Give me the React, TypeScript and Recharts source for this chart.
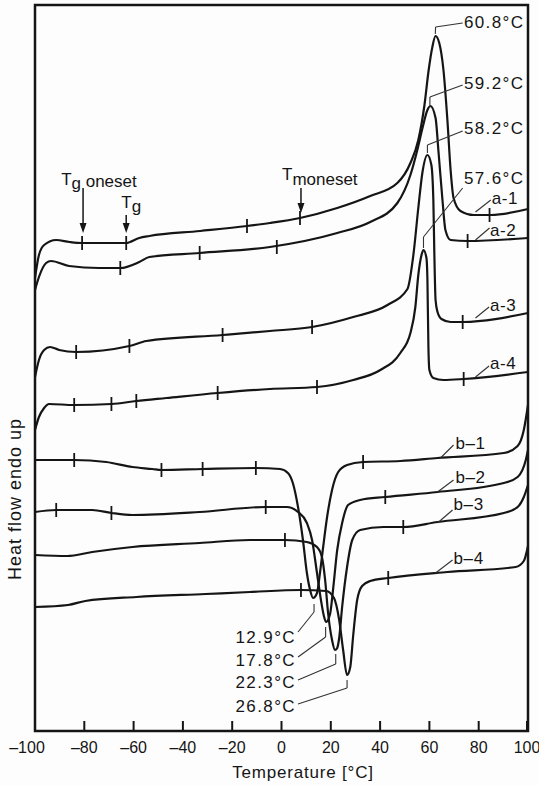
import React from "react";
import {
  ComposedChart,
  Line,
  Scatter,
  XAxis,
  YAxis,
  ReferenceArea,
  ReferenceLine,
  ReferenceDot,
} from "recharts";

type Pt = [number, number];

// temperature [°C], heat flow (arbitrary units, endo up)
const curveA1: Pt[] = [
  [-100, 453], [-98.4, 476], [-96.3, 486], [-91.4, 491], [-86, 489], [-80.9, 488], [-63, 488],
  [-57.7, 493], [-53.6, 495], [-33, 500], [-14, 505], [-4.7, 508], [7.5, 513], [22.6, 523],
  [36, 535], [47, 548], [52.3, 568], [55.5, 591], [58, 626], [59.6, 659], [61.2, 684],
  [62.5, 695], [64, 688], [65.7, 661], [67.3, 611], [68.6, 561], [69.8, 533], [72.6, 520],
  [78, 516], [84.9, 516], [100, 522],
];
const curveA2: Pt[] = [
  [-100, 441], [-98.4, 454], [-95.5, 468], [-93.5, 470], [-86.2, 465], [-74, 463], [-65.4, 463],
  [-57.7, 469], [-53.6, 474], [-33.2, 478], [-4.7, 484], [22.6, 498], [36, 509], [47, 528],
  [52.3, 556], [55.1, 581], [57.2, 603], [59.2, 621], [60.4, 625], [62.5, 613], [63.7, 579],
  [65.3, 531], [66.5, 501], [68.6, 491], [75.5, 490], [100, 493],
];
const curveA3: Pt[] = [
  [-100, 354], [-98.4, 371], [-96.3, 381], [-93.9, 384], [-90.2, 381], [-83.3, 379], [-61.7, 385],
  [-54.8, 390], [-23.9, 396], [-4.7, 400], [12.4, 404], [29.1, 414], [43, 426], [51.1, 442],
  [53.5, 476], [55.5, 523], [57.2, 559], [59.2, 576], [60.8, 566], [61.6, 531], [62, 478],
  [62.5, 431], [63.3, 419], [64.9, 412], [68.6, 409], [73.5, 409], [100, 418],
];
const curveA4: Pt[] = [
  [-100, 301], [-98.4, 314], [-96.3, 323], [-94.3, 327], [-84.1, 326], [-69, 327], [-58.9, 330],
  [-46.7, 333], [-25.9, 338], [-4.7, 342], [14.4, 344], [29.1, 351], [40.1, 361], [48.2, 378],
  [52.3, 398], [54.3, 424], [55.5, 456], [56.8, 476], [57.6, 481], [58.8, 473], [59.2, 451],
  [59.6, 384], [60, 361], [61.6, 353], [65.7, 351], [73.9, 352], [100, 359],
];
const curveB1: Pt[] = [
  [-100, 271], [-84.1, 271], [-71.1, 269], [-60.5, 264], [-52.4, 262], [-48.7, 261], [-32, 262],
  [-10.4, 263], [-0.6, 262], [2.6, 258], [4.6, 248], [6.7, 224], [8.7, 191], [10.3, 158],
  [11.6, 141], [12.8, 133], [14.4, 138], [15.6, 158], [16.9, 184], [18.5, 214], [20.5, 241],
  [23, 259], [26.6, 266], [33.1, 269], [48.2, 270], [63.3, 273], [90.2, 278], [95.8, 285],
  [98.3, 301], [100, 326],
];
const curveB2: Pt[] = [
  [-100, 219], [-91.4, 221], [-76.8, 221], [-69, 218], [-60.5, 216], [-33.2, 219], [-6.4, 224],
  [2.2, 224], [6.7, 219], [10.3, 208], [12.4, 191], [14.4, 158], [16, 131], [17.3, 114],
  [18.1, 109], [19.7, 117], [20.9, 141], [22.6, 181], [24.6, 208], [27, 226], [31.9, 231],
  [42.1, 234], [63.3, 239], [90.2, 248], [95.8, 254], [99.1, 271], [100, 281],
];
const curveB3: Pt[] = [
  [-100, 176], [-87, 175], [-76.8, 179], [-60.5, 184], [-33.2, 188], [-12.9, 191], [1.4, 191],
  [10.3, 189], [14.4, 184], [16.4, 174], [17.7, 151], [18.9, 118], [20.5, 91], [21.7, 81],
  [22.6, 83], [23.4, 93], [24.6, 124], [26.6, 164], [28.7, 191], [31.9, 201], [41.3, 204],
  [49.4, 204], [63.3, 209], [90.2, 218], [95.8, 224], [98.3, 234], [100, 246],
];
const curveB4: Pt[] = [
  [-100, 124], [-86.6, 126], [-79.6, 130], [-58.9, 134], [-30.8, 137], [-12.9, 139], [7.9, 141],
  [18.1, 140], [21.3, 133], [23.4, 111], [25, 81], [26.6, 56], [27.9, 64], [29.1, 96],
  [30.7, 131], [32.7, 145], [36, 150], [43.3, 153], [67.3, 159], [95, 164], [98.3, 170],
  [100, 185],
];

// small vertical marks on the traces
const ticksA1: Pt[] = [[-80.9, 488], [-63, 488], [-14, 505], [7.5, 513], [84.4, 516]];
const ticksA2: Pt[] = [[-65.4, 463], [-33.2, 478], [-1.9, 484], [75.5, 490]];
const ticksA3: Pt[] = [[-83.3, 379], [-61.7, 385], [-23.9, 396], [12.4, 404], [73.5, 409]];
const ticksA4: Pt[] = [[-84.1, 326], [-69, 327], [-58.9, 330], [-25.9, 338], [14.4, 344], [73.9, 352]];
const ticksB1: Pt[] = [[-84.1, 271], [-48.7, 261], [-32, 262], [-10.4, 263], [33.1, 269]];
const ticksB2: Pt[] = [[-91.4, 221], [-69, 218], [-6.4, 224], [42.1, 234]];
const ticksB3: Pt[] = [[1.4, 191], [49.4, 204]];
const ticksB4: Pt[] = [[7.9, 141], [43.3, 153]];

const xTicks = [-100, -80, -60, -40, -20, 0, 20, 40, 60, 80, 100];

const peakNotes = [
  { text: "60.8°C", at: [74, 709] as Pt, leader: [[62.4, 697], [62.5, 704], [73.5, 708]] as Pt[] },
  { text: "59.2°C", at: [74, 648] as Pt, leader: [[60.2, 626], [60.2, 634], [73.5, 646]] as Pt[] },
  { text: "58.2°C", at: [74, 603] as Pt, leader: [[59.2, 578], [59.2, 586], [73.5, 600]] as Pt[] },
  { text: "57.6°C", at: [74, 553] as Pt, leader: [[57.6, 483], [57.6, 494], [73.5, 543]] as Pt[] },
];
const troughNotes = [
  { text: "12.9°C", at: [5.9, 94] as Pt, leader: [[6.7, 99], [13.2, 119], [13.2, 127]] as Pt[] },
  { text: "17.8°C", at: [5.9, 71] as Pt, leader: [[6.7, 74], [17.9, 94], [17.9, 104]] as Pt[] },
  { text: "22.3°C", at: [5.9, 49] as Pt, leader: [[6.7, 51], [22.0, 67], [22.0, 77]] as Pt[] },
  { text: "26.8°C", at: [5.9, 25] as Pt, leader: [[6.7, 27], [26.6, 43], [26.6, 51]] as Pt[] },
];
const traceNotes = [
  { text: "a-1", at: [85.3, 533] as Pt, leader: [[78.7, 519], [84.9, 531]] as Pt[] },
  { text: "a-2", at: [84.6, 501] as Pt, leader: [[78.7, 491], [84.4, 503]] as Pt[] },
  { text: "a-3", at: [84.6, 426] as Pt, leader: [[78.7, 413], [84.2, 424]] as Pt[] },
  { text: "a-4", at: [84.6, 368] as Pt, leader: [[78.7, 354], [84.2, 365]] as Pt[] },
  { text: "b–1", at: [70.6, 288] as Pt, leader: [[64.5, 273], [69.8, 286]] as Pt[] },
  { text: "b–2", at: [70.6, 254] as Pt, leader: [[63.3, 239], [69.8, 251]] as Pt[] },
  { text: "b–3", at: [69.8, 227] as Pt, leader: [[63.3, 208], [69.4, 221]] as Pt[] },
  { text: "b–4", at: [69.8, 173] as Pt, leader: [[62.5, 158], [69.4, 171]] as Pt[] },
];
const arrows = [
  { x: -80.5, from: 543, to: 498 },
  { x: -63, from: 516, to: 498 },
  { x: 7.9, from: 543, to: 518 },
];

const ink = "#151515";
const font = "'Liberation Sans', Arial, sans-serif";

const curves = [curveA1, curveA2, curveA3, curveA4, curveB1, curveB2, curveB3, curveB4];
const marks = [ticksA1, ticksA2, ticksA3, ticksA4, ticksB1, ticksB2, ticksB3, ticksB4]
  .flat()
  .map(([x, y]) => ({ x, y }));
const toPts = (a: Pt[]) => a.map(([x, y]) => ({ x, y }));

function TempTick({ x, y, payload }: any) {
  const v = payload.value as number;
  const label = v < 0 ? `–${Math.abs(v)}` : String(v);
  return (
    <g>
      <line x1={x} x2={x} y1={y} y2={y - 10} stroke={ink} strokeWidth={2} />
      <text x={v === -100 ? x - 8 : x} y={y + 22} textAnchor="middle" fontSize={16} fill={ink} fontFamily={font}>
        {label}
      </text>
    </g>
  );
}

function Leader({ pts }: { pts: Pt[] }) {
  return (
    <>
      {pts.slice(1).map((p, i) => (
        <ReferenceLine
          key={i}
          segment={[{ x: pts[i][0], y: pts[i][1] }, { x: p[0], y: p[1] }]}
          stroke="#333"
          strokeWidth={1.1}
          ifOverflow="visible"
        />
      ))}
    </>
  );
}

export default function App() {
  const noteText = (text: string, anchor: "start" | "end", spacing = 1.4) => (p: any) => (
    <text
      x={p.cx}
      y={p.cy}
      textAnchor={anchor}
      dominantBaseline="central"
      fontSize={17}
      letterSpacing={spacing}
      fill={ink}
      fontFamily={font}
    >
      {text}
    </text>
  );

  return (
    <div style={{ position: "absolute", left: 0, top: 0, width: 539, height: 785, background: "#fdfdfd" }}>
      <ComposedChart width={539} height={785} margin={{ top: 5, right: 11, bottom: 0, left: 0 }}>
        <XAxis
          dataKey="x"
          type="number"
          domain={[-100, 100]}
          ticks={xTicks}
          height={54}
          axisLine={false}
          tickLine={false}
          tickSize={0}
          tickMargin={0}
          tick={<TempTick />}
          label={{
            content: () => (
              <text x={303} y={778} textAnchor="middle" fontSize={17} fill={ink} fontFamily={font} letterSpacing={0.8}>
                Temperature [°C]
              </text>
            ),
          }}
        />
        <YAxis
          dataKey="y"
          type="number"
          domain={[0, 726]}
          width={35}
          axisLine={false}
          tickLine={false}
          tick={false}
          label={{
            content: () => (
              <text
                x={15}
                y={499}
                transform="rotate(-90 15 499)"
                textAnchor="middle"
                dominantBaseline="central"
                fontSize={18}
                letterSpacing={1}
                fill={ink}
                fontFamily={font}
              >
                Heat flow endo up
              </text>
            ),
          }}
        />
        <ReferenceArea x1={-100} x2={100} y1={0} y2={726} fill="none" stroke={ink} strokeWidth={2.5} ifOverflow="visible" />

        {curves.map((c, i) => (
          <Line
            key={i}
            data={toPts(c)}
            dataKey="y"
            type="monotone"
            stroke={ink}
            strokeWidth={2.2}
            dot={false}
            activeDot={false}
            isAnimationActive={false}
          />
        ))}
        <Scatter
          data={marks}
          dataKey="y"
          isAnimationActive={false}
          shape={(p: any) => <line x1={p.cx} x2={p.cx} y1={p.cy - 7} y2={p.cy + 7} stroke={ink} strokeWidth={1.8} />}
        />

        {[...peakNotes, ...traceNotes].map((n) => (
          <React.Fragment key={n.text}>
            <Leader pts={n.leader} />
            <ReferenceDot x={n.at[0]} y={n.at[1]} r={0} ifOverflow="visible" shape={noteText(n.text, "start", n.text.length > 3 ? 1.4 : 0.6)} />
          </React.Fragment>
        ))}
        {troughNotes.map((n) => (
          <React.Fragment key={n.text}>
            <Leader pts={n.leader} />
            <ReferenceDot x={n.at[0]} y={n.at[1]} r={0} ifOverflow="visible" shape={noteText(n.text, "end", 1.4)} />
          </React.Fragment>
        ))}

        {arrows.map((a, i) => (
          <React.Fragment key={i}>
            <ReferenceLine segment={[{ x: a.x, y: a.from }, { x: a.x, y: a.to + 8 }]} stroke={ink} strokeWidth={1.5} ifOverflow="visible" />
            <ReferenceDot
              x={a.x}
              y={a.to}
              r={0}
              ifOverflow="visible"
              shape={(p: any) => <path d={`M${p.cx - 3.5},${p.cy - 10} L${p.cx + 3.5},${p.cy - 10} L${p.cx},${p.cy} Z`} fill={ink} />}
            />
          </React.Fragment>
        ))}

        <ReferenceDot
          x={-89.4}
          y={546}
          r={0}
          ifOverflow="visible"
          shape={(p: any) => (
            <text x={p.cx} y={p.cy} fontSize={17} fill={ink} fontFamily={font}>
              T<tspan dy={4}>g</tspan>
              <tspan dy={-2}> oneset</tspan>
            </text>
          )}
        />
        <ReferenceDot
          x={-65}
          y={523}
          r={0}
          ifOverflow="visible"
          shape={(p: any) => (
            <text x={p.cx} y={p.cy} fontSize={17} fill={ink} fontFamily={font}>
              T<tspan dy={4}>g</tspan>
            </text>
          )}
        />
        <ReferenceDot
          x={0.2}
          y={551}
          r={0}
          ifOverflow="visible"
          shape={(p: any) => (
            <text x={p.cx} y={p.cy} fontSize={17} fill={ink} fontFamily={font}>
              T<tspan dy={5}>moneset</tspan>
            </text>
          )}
        />
      </ComposedChart>
    </div>
  );
}
